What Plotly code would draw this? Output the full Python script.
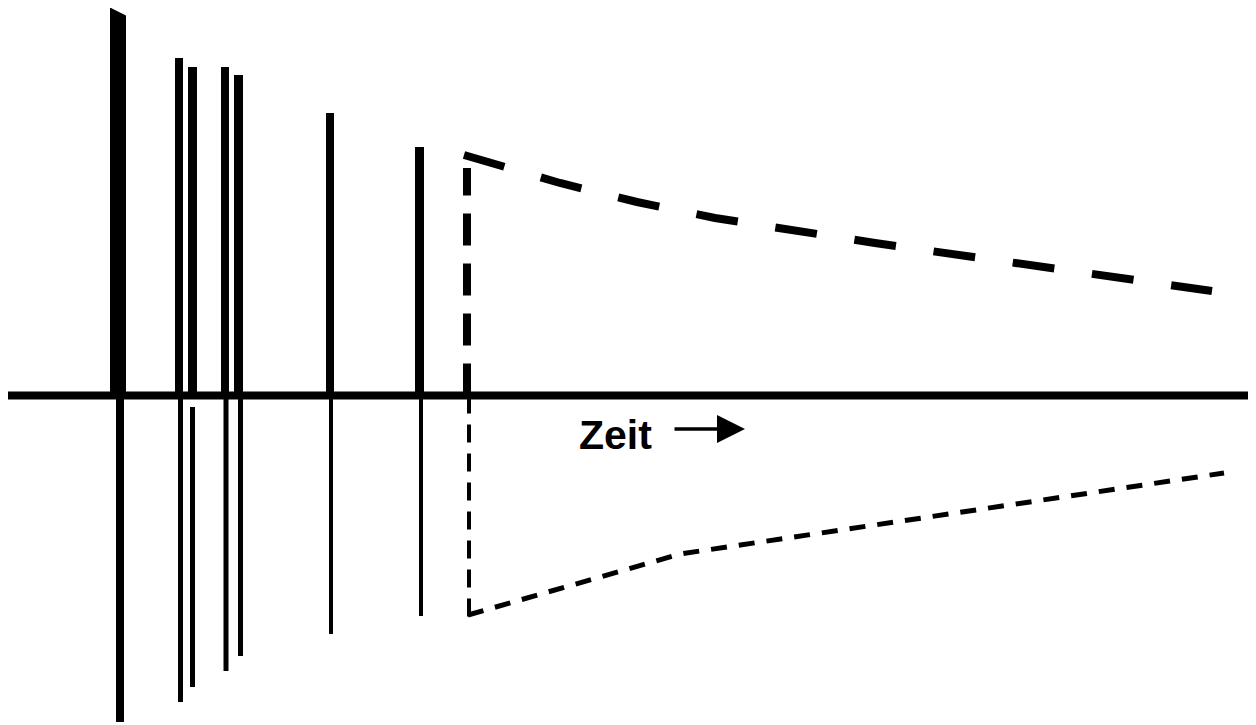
import plotly.graph_objects as go

# ---------------- data (time in drawing units, amplitude above/below the time axis) -------------
reflection_times = [118, 179, 192.5, 225, 238.5, 330, 419.5]
pos_amplitude = [384, 337.5, 328.5, 328.5, 320.5, 282.5, 248.5]
pos_top_tilt = [-8, 0, 0, 0, 0, 0, 0]          # first impulse has a slanted top
neg_times = [120, 180.5, 192.5, 226, 240.5, 331, 421]
neg_amplitude = [-326.5, -306.5, -291.5, -275.5, -260.5, -238.5, -220.5]
neg_start = [0, 0, -11.5, 0, 0, 0, 0]

onset_time = 467
upper_decay_t = [464, 560, 637, 715, 875, 1035, 1212]
upper_decay_a = [240.5, 212.5, 193.5, 177.5, 152.5, 129.5, 104.5]
upper_onset_a = [0, 227.5]
lower_decay_t = [468, 680, 1224]
lower_decay_a = [-219.5, -158.5, -77.5]
lower_onset_a = [0, -226.5]

axis_t = [8, 1256]
label_text = "Zeit"

# ---------------- styles ----------------
pos_widths = [16, 8, 9, 8, 9, 8, 9]
neg_widths = [8, 5, 5, 5, 5, 4, 4]

fig = go.Figure()

def bars(times, starts, ends, widths, tilt=None):
    xs, ys = [], []
    for i, (t, s, e, w) in enumerate(zip(times, starts, ends, widths)):
        d = tilt[i] if tilt else 0
        xs += [t - w / 2, t - w / 2, t + w / 2, t + w / 2, t - w / 2, None]
        ys += [s, e - d / 2 if d else e, e + d / 2 if d else e, s, s, None]
    return xs, ys

px_, py_ = bars(reflection_times, [0] * len(reflection_times), pos_amplitude, pos_widths, pos_top_tilt)
fig.add_trace(go.Scatter(x=px_, y=py_, mode="lines", fill="toself", fillcolor="black",
                         line=dict(width=0, color="black"), hoverinfo="skip"))
nx_, ny_ = bars(neg_times, neg_start, neg_amplitude, neg_widths)
fig.add_trace(go.Scatter(x=nx_, y=ny_, mode="lines", fill="toself", fillcolor="black",
                         line=dict(width=0, color="black"), hoverinfo="skip"))

# time axis
fig.add_trace(go.Scatter(x=axis_t, y=[0, 0], mode="lines",
                         line=dict(color="black", width=8), hoverinfo="skip"))

# upper onset (vertical dashed) and decay
fig.add_trace(go.Scatter(x=[onset_time, onset_time], y=upper_onset_a, mode="lines",
                         line=dict(color="black", width=8, dash="32px,18px"), hoverinfo="skip"))
fig.add_trace(go.Scatter(x=upper_decay_t, y=upper_decay_a, mode="lines",
                         line=dict(color="black", width=8, dash="42px,38px"), hoverinfo="skip"))

# lower onset and decay
fig.add_trace(go.Scatter(x=[onset_time + 2, onset_time + 2], y=lower_onset_a, mode="lines",
                         line=dict(color="black", width=4, dash="18px,11px"), hoverinfo="skip"))
fig.add_trace(go.Scatter(x=lower_decay_t, y=lower_decay_a, mode="lines",
                         line=dict(color="black", width=5, dash="16px,12px"), hoverinfo="skip"))

fig.add_annotation(x=615, y=-39, xref="x", yref="y", text="<b>" + label_text + "</b>",
                   showarrow=False, font=dict(family="Liberation Sans, Arial", size=41, color="black"))
fig.add_annotation(x=745, y=-33.5, ax=673, ay=-33.5, xref="x", yref="y", axref="x", ayref="y",
                   text="", showarrow=True, arrowhead=2, arrowsize=1.6, arrowwidth=3.5,
                   arrowcolor="black")

# the page body adds an 8px margin, so the plot starts 8px in from the window corner
fig.update_layout(
    width=1248, height=717,
    margin=dict(l=0, r=0, t=0, b=0),
    paper_bgcolor="white", plot_bgcolor="white",
    showlegend=False,
    xaxis=dict(range=[8, 1256], visible=False, fixedrange=True),
    yaxis=dict(range=[-329.5, 387.5], visible=False, fixedrange=True),
)
fig.write_html("out.html", config={"displayModeBar": False})
